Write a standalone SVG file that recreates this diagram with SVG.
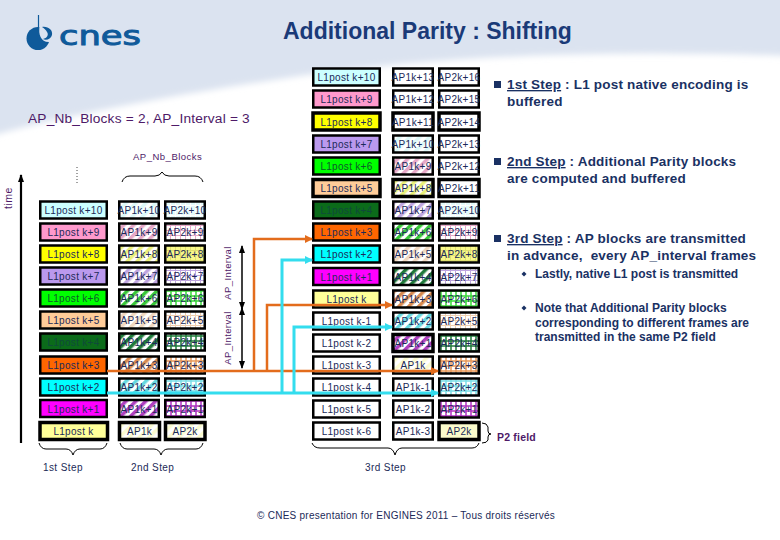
<svg xmlns="http://www.w3.org/2000/svg" width="780" height="540" viewBox="0 0 780 540">
<style>
text{font-family:"Liberation Sans",Arial,sans-serif}
.c{font-size:10px;letter-spacing:.3px;fill:#1b2a58;text-anchor:middle}
.g{fill:#0c5a2a}
.b{stroke:#000;stroke-width:2.5}
.h{stroke:#000;stroke-width:3.5}
.br{fill:none;stroke:#000;stroke-width:1}
.s{font-size:13.500px;font-weight:bold;fill:#1a3163;letter-spacing:.2px}
.n{font-size:12px;font-weight:bold;fill:#1a3163}
.p{fill:#4e1a68}
.l{font-size:10px;letter-spacing:.4px;fill:#1b2a58}
.or{fill:none;stroke:#e36c1c;stroke-width:2.500}
.cy{fill:none;stroke:#33ddee;stroke-width:3}
.a{fill:none;stroke:#000;stroke-width:1.500}
.t{fill:none;stroke:#000;stroke-width:2.200}
</style>
<defs>
<filter id="blur" x="-5%" y="-5%" width="110%" height="120%"><feGaussianBlur stdDeviation="3"/></filter>
<marker id="ao" markerWidth="8" markerHeight="8" refX="7" refY="4" orient="auto" markerUnits="userSpaceOnUse"><path d="M0 0L8 4L0 8Z" fill="#e36c1c"/></marker>
<marker id="ac" markerWidth="8" markerHeight="8" refX="7" refY="4" orient="auto" markerUnits="userSpaceOnUse"><path d="M0 0L8 4L0 8Z" fill="#33ddee"/></marker>
<marker id="ak" markerWidth="8" markerHeight="6" refX="7" refY="3" orient="auto-start-reverse" markerUnits="userSpaceOnUse"><path d="M0 0L8 3L0 6Z" fill="#000"/></marker>
<pattern id="h1" width="7" height="7" patternUnits="userSpaceOnUse" patternTransform="rotate(45)"><rect width="7" height="7" fill="#fff"/><rect width="3.500" height="7" fill="#ddf8f8"/></pattern>
<pattern id="h2" width="7" height="7" patternUnits="userSpaceOnUse" patternTransform="rotate(45)"><rect width="7" height="7" fill="#fff"/><rect width="3.500" height="7" fill="#e6a8c8"/></pattern>
<pattern id="h3" width="7" height="7" patternUnits="userSpaceOnUse" patternTransform="rotate(45)"><rect width="7" height="7" fill="#fff"/><rect width="3.500" height="7" fill="#eaf07a"/></pattern>
<pattern id="h4" width="7" height="7" patternUnits="userSpaceOnUse" patternTransform="rotate(45)"><rect width="7" height="7" fill="#fff"/><rect width="3.500" height="7" fill="#bfa6e0"/></pattern>
<pattern id="h5" width="7" height="7" patternUnits="userSpaceOnUse" patternTransform="rotate(45)"><rect width="7" height="7" fill="#fff"/><rect width="3.500" height="7" fill="#38c838"/></pattern>
<pattern id="h6" width="7" height="7" patternUnits="userSpaceOnUse" patternTransform="rotate(45)"><rect width="7" height="7" fill="#fff"/><rect width="3.500" height="7" fill="#f0d8c0"/></pattern>
<pattern id="h7" width="7" height="7" patternUnits="userSpaceOnUse" patternTransform="rotate(45)"><rect width="7" height="7" fill="#fff"/><rect width="3.500" height="7" fill="#1f7a3a"/></pattern>
<pattern id="h8" width="7" height="7" patternUnits="userSpaceOnUse" patternTransform="rotate(45)"><rect width="7" height="7" fill="#fff"/><rect width="3.500" height="7" fill="#d88a50"/></pattern>
<pattern id="h9" width="7" height="7" patternUnits="userSpaceOnUse" patternTransform="rotate(45)"><rect width="7" height="7" fill="#fff"/><rect width="3.500" height="7" fill="#66d8e0"/></pattern>
<pattern id="h10" width="7" height="7" patternUnits="userSpaceOnUse" patternTransform="rotate(45)"><rect width="7" height="7" fill="#fff"/><rect width="3.500" height="7" fill="#b040c0"/></pattern>
<pattern id="h11" width="7" height="7" patternUnits="userSpaceOnUse" patternTransform="rotate(45)"><rect width="7" height="7" fill="#fff"/><rect width="3.500" height="7" fill="#fbfbd0"/></pattern>
<pattern id="g1" width="5" height="5" patternUnits="userSpaceOnUse"><rect width="5" height="5" fill="#e4fafa"/><path d="M0 .5H5M.5 0V5" stroke="#fff"/></pattern>
<pattern id="g2" width="5" height="5" patternUnits="userSpaceOnUse"><rect width="5" height="5" fill="#fff"/><path d="M0 .5H5M.5 0V5" stroke="#e6a8c8"/></pattern>
<pattern id="g3" width="5" height="5" patternUnits="userSpaceOnUse"><rect width="5" height="5" fill="#f8f88a"/><path d="M0 .5H5M.5 0V5" stroke="#e0e070"/></pattern>
<pattern id="g4" width="5" height="5" patternUnits="userSpaceOnUse"><rect width="5" height="5" fill="#fff"/><path d="M0 .5H5M.5 0V5" stroke="#bfa6e0"/></pattern>
<pattern id="g5" width="5" height="5" patternUnits="userSpaceOnUse"><rect width="5" height="5" fill="#fff"/><path d="M0 1H5M1 0V5" stroke="#38d838" stroke-width="1.500"/></pattern>
<pattern id="g6" width="5" height="5" patternUnits="userSpaceOnUse"><rect width="5" height="5" fill="#fff"/><path d="M0 .5H5M.5 0V5" stroke="#f0d0b0"/></pattern>
<pattern id="g7" width="5" height="5" patternUnits="userSpaceOnUse"><rect width="5" height="5" fill="#fff"/><path d="M0 1H5M1 0V5" stroke="#1f7a3a" stroke-width="1.500"/></pattern>
<pattern id="g8" width="5" height="5" patternUnits="userSpaceOnUse"><rect width="5" height="5" fill="#fff"/><path d="M0 1H5M1 0V5" stroke="#e89858" stroke-width="1.500"/></pattern>
<pattern id="g9" width="5" height="5" patternUnits="userSpaceOnUse"><rect width="5" height="5" fill="#fff"/><path d="M0 1H5M1 0V5" stroke="#7adfe8" stroke-width="1.500"/></pattern>
<pattern id="g10" width="5" height="5" patternUnits="userSpaceOnUse"><rect width="5" height="5" fill="#fff"/><path d="M0 1H5M1 0V5" stroke="#b030c0" stroke-width="1.500"/></pattern>
</defs>
<rect width="780" height="540" fill="#fff"/>
<path d="M-10 -10H790V56C620 50 450 54 300 76C180 94 80 112 -10 136Z" fill="#dbe3f0" filter="url(#blur)"/>
<g id="logo">
<circle cx="38" cy="38.500" r="11.500" fill="#0f5a9a"/>
<path d="M39.500 26C38 34 41 43 50 42C54 38 54 30 48 24Z" fill="#dbe3f0"/>
<path d="M42 27C48 26 53 30 52 35C51 39 46 41 43 39C47 38 49 35 47 32C46 30 44 28 42 27Z" fill="#0f5a9a"/>
<path d="M38.500 15V32" stroke="#0f5a9a" stroke-width="1.200"/>
<text x="59" y="45" font-size="27" textLength="82" lengthAdjust="spacingAndGlyphs" fill="#0f5a9a" stroke="#0f5a9a" stroke-width="1" style="font-family:'DejaVu Sans',sans-serif">cnes</text>
</g>
<text id="title" x="283" y="39" font-size="23" font-weight="bold" fill="#1a3a78">Additional Parity : Shifting</text>
<text x="28" y="123" font-size="13.700" class="p" letter-spacing=".2">AP_Nb_Blocks = 2, AP_Interval = 3</text>
<text x="133" y="160" font-size="9.500" class="p" letter-spacing=".5">AP_Nb_Blocks</text>
<text font-size="10.500" class="p" letter-spacing=".5" text-anchor="middle" transform="translate(12 198) rotate(-90)">time</text>
<text font-size="9.500" class="p" letter-spacing=".4" text-anchor="middle" transform="translate(231 273) rotate(-90)">AP_Interval</text>
<text font-size="9.500" class="p" letter-spacing=".4" text-anchor="middle" transform="translate(231 338) rotate(-90)">AP_Interval</text>
<path d="M77 167V185" stroke="#444" stroke-width="1" stroke-dasharray="1 2" fill="none"/>

<g id="left-column">
<g id="l-k10"><rect class="b" x="40.250" y="201.500" width="66.500" height="17" fill="#ccffff"/><text class="c" x="73.500" y="214">L1post k+10</text></g>
<g id="l-k9"><rect class="b" x="40.250" y="223.500" width="66.500" height="17" fill="#ff99cc"/><text class="c" x="73.500" y="236">L1post k+9</text></g>
<g id="l-k8"><rect class="b" x="40.250" y="245.500" width="66.500" height="17" fill="#ffff00"/><text class="c" x="73.500" y="258">L1post k+8</text></g>
<g id="l-k7"><rect class="b" x="40.250" y="267.500" width="66.500" height="17" fill="#bb99ee"/><text class="c" x="73.500" y="280">L1post k+7</text></g>
<g id="l-k6"><rect class="b" x="40.250" y="289.500" width="66.500" height="17" fill="#00ff00"/><text class="c g" x="73.500" y="302">L1post k+6</text></g>
<g id="l-k5"><rect class="b" x="40.250" y="311.500" width="66.500" height="17" fill="#ffcc99"/><text class="c" x="73.500" y="324">L1post k+5</text></g>
<g id="l-k4"><rect class="b" x="40.250" y="333.500" width="66.500" height="17" fill="#0b6b1a"/><text class="c" x="73.500" y="346" style="fill:#0f4a3a">L1post k+4</text></g>
<g id="l-k3"><rect class="b" x="40.250" y="356.500" width="66.500" height="17" fill="#ff6600"/><text class="c" x="73.500" y="369">L1post k+3</text></g>
<g id="l-k2"><rect class="b" x="40.250" y="378.500" width="66.500" height="17" fill="#00ffff"/><text class="c" x="73.500" y="391">L1post k+2</text></g>
<g id="l-k1"><rect class="b" x="40.250" y="400" width="66.500" height="17" fill="#ff00ff"/><text class="c" x="73.500" y="412.500">L1post k+1</text></g>
<g id="l-k"><rect class="h" x="40" y="422.500" width="67.500" height="17" fill="#ffff99"/><text class="c" x="73.500" y="435">L1post k</text></g>
</g>
<g id="left-ap1">
<g id="a1-k10"><rect class="b" x="119.250" y="201.500" width="39.500" height="17" fill="url(#h1)"/><text class="c" x="139" y="214">AP1k+10</text></g>
<g id="a1-k9"><rect class="b" x="119.250" y="223.500" width="39.500" height="17" fill="url(#h2)"/><text class="c" x="139" y="236">AP1k+9</text></g>
<g id="a1-k8"><rect class="b" x="119.250" y="245.500" width="39.500" height="17" fill="url(#h3)"/><text class="c" x="139" y="258">AP1k+8</text></g>
<g id="a1-k7"><rect class="b" x="119.250" y="267.500" width="39.500" height="17" fill="url(#h4)"/><text class="c" x="139" y="280">AP1k+7</text></g>
<g id="a1-k6"><rect class="b" x="119.250" y="289.500" width="39.500" height="17" fill="url(#h5)"/><text class="c" x="139" y="302">AP1k+6</text></g>
<g id="a1-k5"><rect class="b" x="119.250" y="311.500" width="39.500" height="17" fill="url(#h6)"/><text class="c" x="139" y="324">AP1k+5</text></g>
<g id="a1-k4"><rect class="b" x="119.250" y="333.500" width="39.500" height="17" fill="url(#h7)"/><text class="c" x="139" y="346">AP1k+4</text></g>
<g id="a1-k3"><rect class="b" x="119.250" y="356.500" width="39.500" height="17" fill="url(#h8)"/><text class="c" x="139" y="369">AP1k+3</text></g>
<g id="a1-k2"><rect class="b" x="119.250" y="378.500" width="39.500" height="17" fill="url(#h9)"/><text class="c" x="139" y="391">AP1k+2</text></g>
<g id="a1-k1"><rect class="b" x="119.250" y="400" width="39.500" height="17" fill="url(#h10)"/><text class="c" x="139" y="412.500">AP1k+1</text></g>
<g id="a1-k"><rect class="h" x="119.500" y="422.500" width="40" height="17" fill="url(#h11)"/><text class="c" x="139.500" y="435">AP1k</text></g>
</g>
<g id="left-ap2">
<g id="a2-k10"><rect class="b" x="165.250" y="201.500" width="39.500" height="17" fill="url(#g1)"/><text class="c" x="185" y="214">AP2k+10</text></g>
<g id="a2-k9"><rect class="b" x="165.250" y="223.500" width="39.500" height="17" fill="url(#g2)"/><text class="c" x="185" y="236">AP2k+9</text></g>
<g id="a2-k8"><rect class="b" x="165.250" y="245.500" width="39.500" height="17" fill="url(#g3)"/><text class="c" x="185" y="258">AP2k+8</text></g>
<g id="a2-k7"><rect class="b" x="165.250" y="267.500" width="39.500" height="17" fill="url(#g4)"/><text class="c" x="185" y="280">AP2k+7</text></g>
<g id="a2-k6"><rect class="b" x="165.250" y="289.500" width="39.500" height="17" fill="url(#g5)"/><text class="c" x="185" y="302">AP2k+6</text></g>
<g id="a2-k5"><rect class="b" x="165.250" y="311.500" width="39.500" height="17" fill="url(#g6)"/><text class="c" x="185" y="324">AP2k+5</text></g>
<g id="a2-k4"><rect class="b" x="165.250" y="333.500" width="39.500" height="17" fill="url(#g7)"/><text class="c" x="185" y="346">AP2k+4</text></g>
<g id="a2-k3"><rect class="b" x="165.250" y="356.500" width="39.500" height="17" fill="url(#g8)"/><text class="c" x="185" y="369">AP2k+3</text></g>
<g id="a2-k2"><rect class="b" x="165.250" y="378.500" width="39.500" height="17" fill="url(#g9)"/><text class="c" x="185" y="391">AP2k+2</text></g>
<g id="a2-k1"><rect class="b" x="165.250" y="400" width="39.500" height="17" fill="url(#g10)"/><text class="c" x="185" y="412.500">AP2k+1</text></g>
<g id="a2-k"><rect class="h" x="165.500" y="422.500" width="39.500" height="17" fill="url(#h11)"/><text class="c" x="185" y="435">AP2k</text></g>
</g>

<g id="right-l1">
<g id="r-k10"><rect class="b" x="313.250" y="68.500" width="66.500" height="17" fill="#ccffff"/><text class="c" x="346.500" y="81">L1post k+10</text></g>
<g id="r-k9"><rect class="b" x="313.250" y="90.500" width="66.500" height="17" fill="#ff99cc"/><text class="c" x="346.500" y="103">L1post k+9</text></g>
<g id="r-k8"><rect class="h" x="313" y="113" width="67" height="17" fill="#ffff00"/><text class="c" x="346.500" y="125.500">L1post k+8</text></g>
<g id="r-k7"><rect class="b" x="313.250" y="135.500" width="66.500" height="17" fill="#bb99ee"/><text class="c" x="346.500" y="148">L1post k+7</text></g>
<g id="r-k6"><rect class="b" x="313.250" y="157.500" width="66.500" height="17" fill="#00ff00"/><text class="c g" x="346.500" y="170">L1post k+6</text></g>
<g id="r-k5"><rect class="h" x="313" y="179.500" width="67" height="17" fill="#ffcc99"/><text class="c" x="346.500" y="192">L1post k+5</text></g>
<g id="r-k4"><rect class="b" x="313.250" y="201.500" width="66.500" height="17" fill="#0b6b1a"/><text class="c" x="346.500" y="214" style="fill:#0f4a3a">L1post k+4</text></g>
<g id="r-k3"><rect class="b" x="313.250" y="223.500" width="66.500" height="17" fill="#ff6600"/><text class="c" x="346.500" y="236">L1post k+3</text></g>
<g id="r-k2"><rect class="b" x="313.250" y="245.500" width="66.500" height="17" fill="#00ffff"/><text class="c" x="346.500" y="258">L1post k+2</text></g>
<g id="r-k1"><rect class="b" x="313.250" y="268" width="66.500" height="17" fill="#ff00ff"/><text class="c" x="346.500" y="280.500">L1post k+1</text></g>
<g id="r-k"><rect class="b" x="313.250" y="290.500" width="66.500" height="17" fill="#ffff99"/><text class="c" x="346.500" y="303">L1post k</text></g>
<g id="r-km1"><rect class="b" x="313.250" y="312.500" width="66.500" height="17" fill="#fff"/><text class="c" x="346.500" y="325">L1post k-1</text></g>
<g id="r-km2"><rect class="b" x="313.250" y="334.500" width="66.500" height="17" fill="#fff"/><text class="c" x="346.500" y="347">L1post k-2</text></g>
<g id="r-km3"><rect class="b" x="313.250" y="356.500" width="66.500" height="17" fill="#fff"/><text class="c" x="346.500" y="369">L1post k-3</text></g>
<g id="r-km4"><rect class="b" x="313.250" y="378.500" width="66.500" height="17" fill="#fff"/><text class="c" x="346.500" y="391">L1post k-4</text></g>
<g id="r-km5"><rect class="b" x="313.250" y="400.500" width="66.500" height="17" fill="#fff"/><text class="c" x="346.500" y="413">L1post k-5</text></g>
<g id="r-km6"><rect class="b" x="313.250" y="422.500" width="66.500" height="17" fill="#fff"/><text class="c" x="346.500" y="435">L1post k-6</text></g>
</g>
<g id="right-ap1">
<g id="ra1-13"><rect class="b" x="393.250" y="68.500" width="39.500" height="17" fill="#fff"/><text class="c" x="413" y="81">AP1k+13</text></g>
<g id="ra1-12"><rect class="b" x="393.250" y="90.500" width="39.500" height="17" fill="#fff"/><text class="c" x="413" y="103">AP1k+12</text></g>
<g id="ra1-11"><rect class="h" x="393" y="113" width="40" height="17" fill="#fff"/><text class="c" x="413" y="125.500">AP1k+11</text></g>
<g id="ra1-10"><rect class="b" x="393.250" y="135.500" width="39.500" height="17" fill="url(#h1)"/><text class="c" x="413" y="148">AP1k+10</text></g>
<g id="ra1-9"><rect class="b" x="393.250" y="157.500" width="39.500" height="17" fill="url(#h2)"/><text class="c" x="413" y="170">AP1k+9</text></g>
<g id="ra1-8"><rect class="h" x="393" y="179.500" width="40" height="17" fill="url(#h3)"/><text class="c" x="413" y="192">AP1k+8</text></g>
<g id="ra1-7"><rect class="b" x="393.250" y="201.500" width="39.500" height="17" fill="url(#h4)"/><text class="c" x="413" y="214">AP1k+7</text></g>
<g id="ra1-6"><rect class="b" x="393.250" y="223.500" width="39.500" height="17" fill="url(#h5)"/><text class="c" x="413" y="236">AP1k+6</text></g>
<g id="ra1-5"><rect class="b" x="393.250" y="245.500" width="39.500" height="17" fill="url(#h6)"/><text class="c" x="413" y="258">AP1k+5</text></g>
<g id="ra1-4"><rect class="b" x="393.250" y="268" width="39.500" height="17" fill="url(#h7)"/><text class="c" x="413" y="280.500">AP1k+4</text></g>
<g id="ra1-3"><rect class="b" x="393.250" y="290.500" width="39.500" height="17" fill="url(#h8)"/><text class="c" x="413" y="303">AP1k+3</text></g>
<g id="ra1-2"><rect class="b" x="393.250" y="312.500" width="39.500" height="17" fill="url(#h9)"/><text class="c" x="413" y="325">AP1k+2</text></g>
<g id="ra1-1"><rect class="h" x="393" y="334.500" width="40" height="17" fill="url(#h10)"/><text class="c" x="413" y="347">AP1k+1</text></g>
<g id="ra1-0"><rect class="b" x="393.250" y="356.500" width="39.500" height="17" fill="url(#h11)"/><text class="c" x="413" y="369">AP1k</text></g>
<g id="ra1-m1"><rect class="b" x="393.250" y="378.500" width="39.500" height="17" fill="#fff"/><text class="c" x="413" y="391">AP1k-1</text></g>
<g id="ra1-m2"><rect class="b" x="393.250" y="400.500" width="39.500" height="17" fill="#fff"/><text class="c" x="413" y="413">AP1k-2</text></g>
<g id="ra1-m3"><rect class="b" x="393.250" y="422.500" width="39.500" height="17" fill="#fff"/><text class="c" x="413" y="435">AP1k-3</text></g>
</g>
<g id="right-ap2">
<g id="ra2-16"><rect class="b" x="439.250" y="68.500" width="39.500" height="17" fill="#fff"/><text class="c" x="459" y="81">AP2k+16</text></g>
<g id="ra2-15"><rect class="b" x="439.250" y="90.500" width="39.500" height="17" fill="#fff"/><text class="c" x="459" y="103">AP2k+15</text></g>
<g id="ra2-14"><rect class="h" x="439" y="113" width="40" height="17" fill="#fff"/><text class="c" x="459" y="125.500">AP2k+14</text></g>
<g id="ra2-13"><rect class="b" x="439.250" y="135.500" width="39.500" height="17" fill="#fff"/><text class="c" x="459" y="148">AP2k+13</text></g>
<g id="ra2-12"><rect class="b" x="439.250" y="157.500" width="39.500" height="17" fill="#fff"/><text class="c" x="459" y="170">AP2k+12</text></g>
<g id="ra2-11"><rect class="h" x="439" y="179.500" width="40" height="17" fill="#fff"/><text class="c" x="459" y="192">AP2k+11</text></g>
<g id="ra2-10"><rect class="b" x="439.250" y="201.500" width="39.500" height="17" fill="url(#g1)"/><text class="c" x="459" y="214">AP2k+10</text></g>
<g id="ra2-9"><rect class="b" x="439.250" y="223.500" width="39.500" height="17" fill="url(#g2)"/><text class="c" x="459" y="236">AP2k+9</text></g>
<g id="ra2-8"><rect class="b" x="439.250" y="245.500" width="39.500" height="17" fill="url(#g3)"/><text class="c" x="459" y="258">AP2k+8</text></g>
<g id="ra2-7"><rect class="b" x="439.250" y="268" width="39.500" height="17" fill="url(#g4)"/><text class="c" x="459" y="280.500">AP2k+7</text></g>
<g id="ra2-6"><rect class="b" x="439.250" y="290.500" width="39.500" height="17" fill="url(#g5)"/><text class="c" x="459" y="303">AP2k+6</text></g>
<g id="ra2-5"><rect class="b" x="439.250" y="312.500" width="39.500" height="17" fill="url(#g6)"/><text class="c" x="459" y="325">AP2k+5</text></g>
<g id="ra2-4"><rect class="b" x="439.250" y="334.500" width="39.500" height="17" fill="url(#g7)"/><text class="c" x="459" y="347">AP2k+4</text></g>
<g id="ra2-3"><rect class="b" x="439.250" y="356.500" width="39.500" height="17" fill="url(#g8)"/><text class="c" x="459" y="369">AP2k+3</text></g>
<g id="ra2-2"><rect class="b" x="439.250" y="378.500" width="39.500" height="17" fill="url(#g9)"/><text class="c" x="459" y="391">AP2k+2</text></g>
<g id="ra2-1"><rect class="b" x="439.250" y="400.500" width="39.500" height="17" fill="url(#g10)"/><text class="c" x="459" y="413">AP2k+1</text></g>
<g id="ra2-0"><rect class="h" x="439" y="422.500" width="40" height="17" fill="#fbfbcc"/><text class="c" x="459" y="435">AP2k</text></g>
</g>

<g id="connectors">
<path class="t" d="M21 443V175" marker-end="url(#ak)"/>
<path class="a" d="M242 246V309" marker-start="url(#ak)" marker-end="url(#ak)"/>
<path class="a" d="M242 308V368" marker-start="url(#ak)" marker-end="url(#ak)"/>
<path class="or" d="M107 371H438" marker-end="url(#ao)"/>
<path class="or" d="M254 371V239H312" marker-end="url(#ao)"/>
<path class="or" d="M267 371V305H392" marker-end="url(#ao)"/>
<path class="cy" d="M107 393H438" marker-end="url(#ac)"/>
<path class="cy" d="M282 393V260H312" marker-end="url(#ac)"/>
<path class="cy" d="M294 393V327H392" marker-end="url(#ac)"/>
</g>

<g id="braces">
<path class="br" d="M122 182Q124 176 130 176H155Q160 176 162 172Q164 176 169 176H195Q201 176 203 182"/>
<path class="br" d="M39 443Q41 449 46 449H66Q71 449 73 455Q75 449 80 449H100Q105 449 107 443"/>
<path class="br" d="M120 443Q122 449 127 449H154Q159 449 161 455Q163 449 168 449H196Q201 449 203 443"/>
<path class="br" d="M312 443Q314 448 320 448H388Q393 448 395 455Q397 448 402 448H472Q477 448 479 443"/>
<path class="br" d="M482 423Q487 423 488 427V431Q488 434 491 434Q488 434 488 437V440Q487 443 482 443"/>
</g>
<text class="l" x="43" y="471">1st Step</text>
<text class="l" x="131" y="471">2nd Step</text>
<text class="l" x="365" y="471">3rd Step</text>
<text x="497" y="441" font-size="10.500" font-weight="bold" class="p" letter-spacing=".2">P2 field</text>

<g id="notes">
<rect x="494" y="81" width="7" height="7" fill="#1a3163"/>
<text class="s" x="507" y="89"><tspan text-decoration="underline">1st Step</tspan> : L1 post native encoding is</text>
<text class="s" x="507" y="106">buffered</text>
<rect x="494" y="158" width="7" height="7" fill="#1a3163"/>
<text class="s" x="507" y="166"><tspan text-decoration="underline">2nd Step</tspan> : Additional Parity blocks</text>
<text class="s" x="507" y="183">are computed and buffered</text>
<rect x="494" y="235" width="7" height="7" fill="#1a3163"/>
<text class="s" x="507" y="243"><tspan text-decoration="underline">3rd Step</tspan> : AP blocks are transmitted</text>
<text class="s" x="507" y="260" xml:space="preserve">in advance,  every AP_interval frames</text>
<path d="M524 271.500L526.500 274L524 276.500L521.500 274Z" fill="#1a3163"/>
<text class="n" x="535" y="278">Lastly, native L1 post is transmitted</text>
<path d="M524 305.500L526.500 308L524 310.500L521.500 308Z" fill="#1a3163"/>
<text class="n" x="535" y="312">Note that Additional Parity blocks</text>
<text class="n" x="535" y="327">corresponding to different frames are</text>
<text class="n" x="535" y="341">transmitted in the same P2 field</text>
</g>
<text x="257" y="519" font-size="10" letter-spacing=".26" fill="#1b2a58">© CNES presentation for ENGINES 2011 – Tous droits réservés</text>
</svg>
